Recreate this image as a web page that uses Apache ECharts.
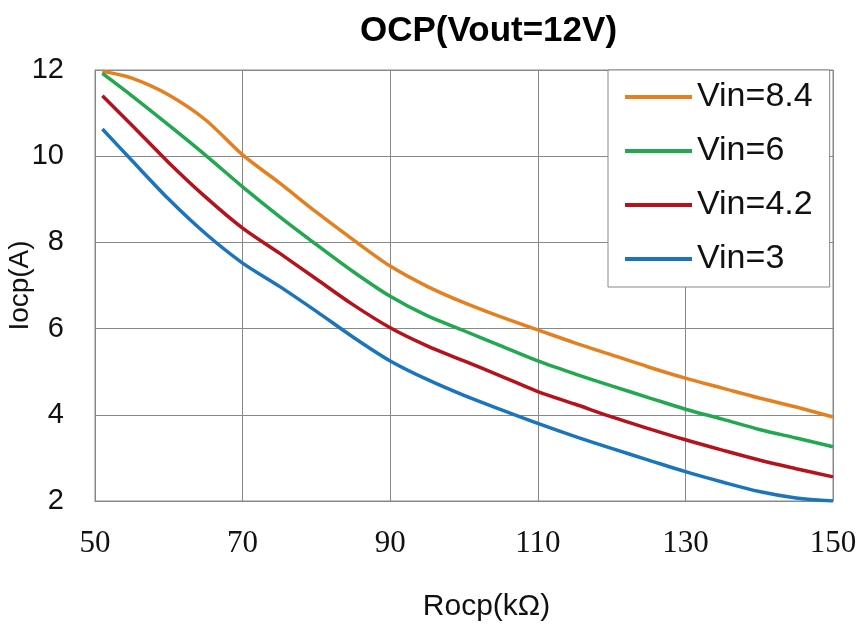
<!DOCTYPE html>
<html>
<head>
<meta charset="utf-8">
<script src="https://cdn.jsdelivr.net/npm/echarts@6/dist/echarts.min.js"></script>
<style>html,body{margin:0;padding:0;background:#fff}#c{width:865px;height:626px}</style>
</head>
<body>
<div id="c"></div>
<script>
var rocp = [51, 55, 60, 65, 70, 75, 80, 85, 90, 95, 100, 105, 110, 115, 120, 125, 130, 135, 140, 145, 150];
var vin84 = [11.97, 11.81, 11.42, 10.84, 10.03, 9.38, 8.7, 8.06, 7.45, 6.98, 6.6, 6.27, 5.97, 5.67, 5.39, 5.11, 4.85, 4.62, 4.39, 4.18, 3.95];
var vin6  = [11.92, 11.4, 10.72, 10.02, 9.29, 8.6, 7.95, 7.32, 6.75, 6.3, 5.95, 5.6, 5.25, 4.95, 4.67, 4.4, 4.13, 3.9, 3.66, 3.46, 3.26];
var vin42 = [11.4, 10.72, 9.85, 9.05, 8.33, 7.75, 7.15, 6.55, 6.02, 5.6, 5.25, 4.9, 4.54, 4.25, 3.95, 3.68, 3.42, 3.18, 2.95, 2.75, 2.56];
var vin3  = [10.63, 9.9, 9.0, 8.2, 7.52, 6.98, 6.4, 5.8, 5.25, 4.82, 4.45, 4.12, 3.8, 3.5, 3.22, 2.95, 2.68, 2.44, 2.22, 2.07, 2.0];
var seriesNames = ['Vin=8.4', 'Vin=6', 'Vin=4.2', 'Vin=3'];
var seriesColors = ['#E4801F', '#22A84E', '#B5121B', '#1B75BC'];
var xTicks = [50, 70, 90, 110, 130, 150];
var yTicks = [2, 4, 6, 8, 10, 12];

function pairs(ys) { return rocp.map(function (x, i) { return [x, ys[i]]; }); }
var allData = [vin84, vin6, vin42, vin3];

var chart = echarts.init(document.getElementById('c'), null, {renderer: 'canvas'});
chart.setOption({
  backgroundColor: '#fff',
  animation: false,
  title: {
    text: 'OCP(Vout=12V)',
    left: 355, top: 9,
    textStyle: {fontFamily: 'Liberation Sans', fontWeight: 'bold', fontSize: 35, color: '#000'}
  },
  legend: {
    orient: 'vertical',
    left: 608, top: 70,
    padding: [10, 17, 11, 17],
    backgroundColor: '#fff',
    borderColor: '#888', borderWidth: 1,
    itemWidth: 67, itemHeight: 4, itemGap: 20,
    icon: 'rect',
    textStyle: {fontFamily: 'Liberation Sans', fontSize: 34, lineHeight: 34, color: '#111', padding: [0, 0, 0, 0]},
    data: seriesNames
  },
  grid: {left: 95, right: 32, top: 70, bottom: 125, containLabel: false, outerBoundsMode: 'none',
         show: true, borderColor: '#888', borderWidth: 1},
  xAxis: {
    type: 'value', min: xTicks[0], max: xTicks[xTicks.length - 1], interval: 20,
    name: 'Rocp(kΩ)', nameLocation: 'middle', nameGap: 91, nameMoveOverlap: false,
    nameTextStyle: {fontFamily: 'Liberation Sans', fontSize: 30, color: '#111', padding: [0, 0, 0, 45]},
    axisLine: {show: true, lineStyle: {color: '#888'}},
    axisTick: {show: false},
    axisLabel: {fontFamily: 'Liberation Serif', fontSize: 31, color: '#111', margin: 27},
    splitLine: {show: true, lineStyle: {color: '#888', width: 1}}
  },
  yAxis: {
    type: 'value', min: yTicks[0], max: yTicks[yTicks.length - 1], interval: 2,
    name: 'Iocp(A)', nameLocation: 'middle', nameGap: 61, nameMoveOverlap: false,
    nameTextStyle: {fontFamily: 'Liberation Sans', fontSize: 28, color: '#111'},
    axisLine: {show: true, lineStyle: {color: '#888'}},
    axisTick: {show: false},
    axisLabel: {fontFamily: 'Liberation Sans', fontSize: 29, color: '#111', margin: 31},
    splitLine: {show: true, lineStyle: {color: '#888', width: 1}}
  },
  series: seriesNames.map(function (n, i) {
    return {
      name: n, type: 'line', data: pairs(allData[i]),
      smooth: 0.3, showSymbol: false, symbol: 'none',
      lineStyle: {width: 3.5, color: seriesColors[i]},
      itemStyle: {color: seriesColors[i]}
    };
  })
});
</script>
</body>
</html>
